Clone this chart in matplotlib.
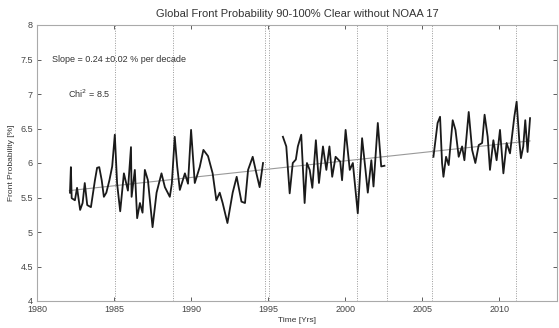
import matplotlib
matplotlib.use("Agg")
import matplotlib.pyplot as plt

plt.rcParams['font.family'] = ['Liberation Sans', 'DejaVu Sans']

# Segment 1 (1982-1995)
t1 = [1982.14, 1982.2, 1982.25, 1982.46, 1982.6, 1982.8, 1982.96, 1983.1, 1983.26, 1983.5,
      1983.76, 1983.9, 1984.04, 1984.2, 1984.34, 1984.5, 1984.7, 1984.88, 1985.05, 1985.2,
      1985.4, 1985.64, 1985.9, 1986.1, 1986.14, 1986.35, 1986.5, 1986.68, 1986.85, 1987.0,
      1987.2, 1987.5, 1987.76, 1988.08, 1988.3, 1988.62, 1988.75, 1988.94, 1989.1, 1989.27,
      1989.6, 1989.8, 1990.0, 1990.24, 1990.56, 1990.8, 1991.1, 1991.4, 1991.64, 1991.86,
      1992.05, 1992.36, 1992.7, 1992.96, 1993.27, 1993.5, 1993.7, 1994.0, 1994.24, 1994.45,
      1994.67]
v1 = [5.57, 5.94, 5.49, 5.46, 5.64, 5.32, 5.42, 5.71, 5.39, 5.36,
      5.75, 5.93, 5.94, 5.75, 5.51, 5.57, 5.75, 5.95, 6.41, 5.7,
      5.30, 5.85, 5.6, 6.23, 5.51, 5.90, 5.20, 5.42, 5.28, 5.90,
      5.75, 5.07, 5.57, 5.85, 5.65, 5.51, 5.70, 6.38, 5.95, 5.61,
      5.85, 5.70, 6.48, 5.71, 5.94, 6.19, 6.10, 5.85, 5.46, 5.57,
      5.42, 5.13, 5.57, 5.80, 5.44, 5.42, 5.90, 6.09, 5.85, 5.65,
      6.00]

# Segment 2 (1996-2002.5)
t2 = [1995.96, 1996.18, 1996.4, 1996.6, 1996.8, 1996.93, 1997.15, 1997.37, 1997.52, 1997.7,
      1997.87, 1998.1, 1998.3, 1998.56, 1998.78, 1998.98, 1999.16, 1999.38, 1999.68, 1999.8,
      2000.03, 2000.3, 2000.5, 2000.82, 2001.1, 2001.32, 2001.47, 2001.7, 2001.84, 2002.12,
      2002.34, 2002.55]
v2 = [6.38, 6.24, 5.56, 6.00, 6.05, 6.24, 6.41, 5.42, 6.00, 5.90,
      5.64, 6.33, 5.71, 6.24, 5.90, 6.24, 5.80, 6.09, 6.02, 5.75,
      6.48, 5.90, 6.00, 5.27, 6.36, 5.90, 5.57, 6.04, 5.66, 6.58,
      5.95, 5.96]

# Segment 3 (2005.7-2012)
t3 = [2005.73, 2006.0, 2006.16, 2006.29, 2006.38, 2006.55, 2006.72, 2006.98, 2007.16, 2007.37,
      2007.59, 2007.74, 2008.02, 2008.24, 2008.45, 2008.67, 2008.89, 2009.05, 2009.25, 2009.4,
      2009.62, 2009.83, 2010.05, 2010.27, 2010.48, 2010.7, 2010.98, 2011.13, 2011.3, 2011.41,
      2011.56, 2011.69, 2011.84, 2012.0]
v3 = [6.09, 6.58, 6.67, 6.00, 5.80, 6.09, 5.97, 6.62, 6.48, 6.09,
      6.24, 6.04, 6.74, 6.19, 6.00, 6.26, 6.29, 6.70, 6.38, 5.90,
      6.33, 6.04, 6.48, 5.85, 6.29, 6.14, 6.67, 6.89, 6.33, 6.07,
      6.24, 6.62, 6.16, 6.65]

trend_years = [1982.1, 2012.0]
trend_vals = [5.60, 6.32]

vlines = [1985.05, 1988.8, 1994.8, 1995.05, 2000.8, 2002.7, 2005.65, 2011.1]

xticks = [1980, 1985, 1990, 1995, 2000, 2005, 2010]
yticks = [4, 4.5, 5, 5.5, 6, 6.5, 7, 7.5, 8]

fig = plt.figure(figsize=(5.59, 3.28), dpi=100)
ax = fig.add_axes([37/559, 1 - 301/328, 520/559, 276/328])

for xv in vlines:
    ax.axvline(xv, color='#999999', lw=0.7, ls=(0, (1, 1.5)), zorder=1)

ax.plot(trend_years, trend_vals, color='#999999', lw=0.8, zorder=2)
for t, v in [(t1, v1), (t2, v2), (t3, v3)]:
    ax.plot(t, v, color='#1a1a1a', lw=1.3, zorder=3, solid_joinstyle='round')

ax.set_xlim(1980, 2013.75)
ax.set_ylim(4, 8)
ax.set_xticks(xticks)
ax.set_yticks(yticks)
ax.set_yticklabels(['4', '4.5', '5', '5.5', '6', '6.5', '7', '7.5', '8'])
ax.tick_params(direction='in', length=3, width=0.6, labelsize=6.5, colors='#444444',
               top=True, right=True, pad=3)
for s in ax.spines.values():
    s.set_color('#aaaaaa')
    s.set_linewidth(0.8)

ax.set_title('Global Front Probability 90-100% Clear without NOAA 17', fontsize=8,
             color='#333333', pad=6)
ax.set_xlabel('Time [Yrs]', fontsize=6, color='#333333', labelpad=2)
ax.set_ylabel('Front Probability [%]', fontsize=6, color='#333333', labelpad=4)

ax.text(1981.0, 7.5, 'Slope = 0.24 \u00b10.02 % per decade', fontsize=6.5, color='#333333',
        va='center', ha='left')
ax.text(1982.0, 7.0, 'Chi$^2$ = 8.5', fontsize=6.5, color='#333333', va='center', ha='left')

fig.savefig('out.png', dpi=100, facecolor='white')
